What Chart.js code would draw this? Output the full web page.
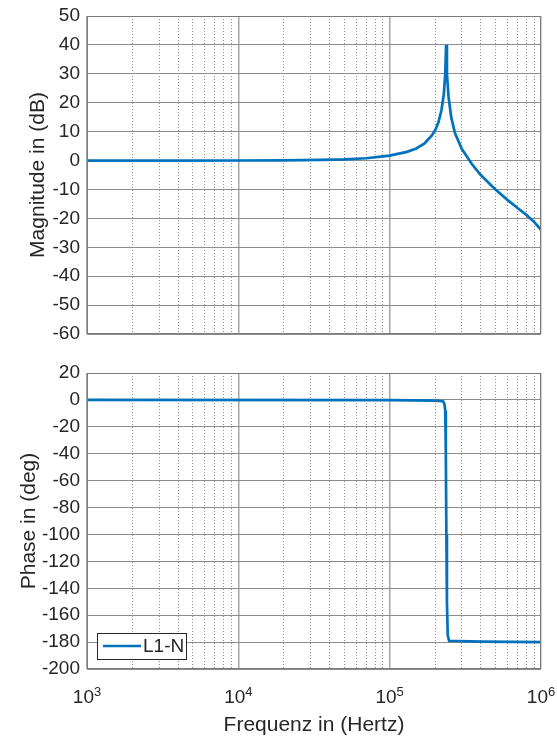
<!DOCTYPE html>
<html>
<head>
<meta charset="utf-8">
<script src="https://cdn.jsdelivr.net/npm/chart.js@4"></script>
<style>
  body { margin: 0; background: #fff; }
  #top { position: absolute; left: 0; top: 0; width: 557px; height: 350px; }
  #bottom { position: absolute; left: 0; top: 350px; width: 557px; height: 388px; }
</style>
</head>
<body>
<div id="top"><canvas id="magChart"></canvas></div>
<div id="bottom"><canvas id="phaseChart"></canvas></div>
<script>
// frequencies (Hz)
const magFreq = [1000, 5000, 10000, 20000, 35000, 50000, 70000, 100000, 130000, 150000, 170000, 190000, 200000, 210000, 220000, 228000, 233000, 236000, 239000, 245000, 255000, 270000, 300000, 350000, 400000, 500000, 600000, 700000, 800000, 900000, 1000000];
const magDb = [0, 0, 0.01, 0.06, 0.2, 0.4, 0.8, 1.7, 3.0, 4.2, 5.9, 8.7, 10.5, 13.2, 17.5, 23, 30, 40, 30, 22, 15, 9.5, 4, -1.3, -5.0, -10, -13.6, -16.4, -18.8, -21.2, -24];

const phaseFreq = [1000, 100000, 200000, 225000, 230000, 233000, 235000, 237000, 239000, 242000, 247000, 400000, 1000000];
const phaseDeg = [0, -0.2, -0.5, -1, -3, -8, -40, -100, -150, -175, -179, -179.6, -180];

const seriesLabel = 'L1-N';
const xDecades = [1000, 10000, 100000, 1000000];
const xExponents = ['3', '4', '5', '6'];
const magTicks = [50, 40, 30, 20, 10, 0, -10, -20, -30, -40, -50, -60];
const phaseTicks = [20, 0, -20, -40, -60, -80, -100, -120, -140, -160, -180, -200];

const lineColor = '#0072BD';
const textColor = '#262626';
const fontFamily = 'Liberation Sans, Arial, sans-serif';
const titleFont = { family: fontFamily, size: 21 };
const tickFont = { family: fontFamily, size: 19 };

function logTicks() {
  const t = [];
  for (let e = 3; e < 6; e++) for (let m = 1; m < 10; m++) t.push({ value: m * Math.pow(10, e) });
  t.push({ value: 1e6 });
  return t;
}
function isDecade(v) { return Math.abs(Math.log10(v) - Math.round(Math.log10(v))) < 1e-9; }

const boxPlugin = {
  id: 'box',
  afterDraw(chart) {
    const a = chart.chartArea, ctx = chart.ctx;
    ctx.save();
    ctx.strokeStyle = '#7a7a7a';
    ctx.lineWidth = 1;
    ctx.strokeRect(a.left + 0.5, a.top + 0.5, a.right - a.left - 1, a.bottom - a.top - 1);
    ctx.restore();
  }
};

// x tick labels as 10 with a raised exponent
const powerLabels = {
  id: 'powerLabels',
  afterDraw(chart) {
    if (!chart.options.plugins.powerLabels || !chart.options.plugins.powerLabels.show) return;
    const ctx = chart.ctx, a = chart.chartArea, sx = chart.scales.x;
    ctx.save();
    ctx.fillStyle = textColor;
    ctx.textBaseline = 'alphabetic';
    ctx.textAlign = 'left';
    xDecades.forEach((v, i) => {
      const x = sx.getPixelForValue(v);
      ctx.font = '19px ' + fontFamily;
      const wBase = ctx.measureText('10').width;
      ctx.font = '13px ' + fontFamily;
      const wExp = ctx.measureText(xExponents[i]).width;
      const left = x - (wBase + wExp) / 2;
      ctx.font = '19px ' + fontFamily;
      ctx.fillText('10', left, a.bottom + 34);
      ctx.font = '13px ' + fontFamily;
      ctx.fillText(xExponents[i], left + wBase, a.bottom + 27);
    });
    ctx.restore();
  }
};

const legendPlugin = {
  id: 'boxLegend',
  afterDraw(chart) {
    if (!chart.options.plugins.boxLegend || !chart.options.plugins.boxLegend.show) return;
    const ctx = chart.ctx, a = chart.chartArea;
    const x = a.left + 10, y = a.bottom - 36, w = 89, h = 26;
    ctx.save();
    ctx.fillStyle = '#fff';
    ctx.fillRect(x, y, w, h);
    ctx.strokeStyle = textColor;
    ctx.lineWidth = 1;
    ctx.strokeRect(x + 0.5, y + 0.5, w, h);
    ctx.strokeStyle = lineColor;
    ctx.lineWidth = 2.5;
    ctx.beginPath();
    ctx.moveTo(x + 6, y + h / 2);
    ctx.lineTo(x + 44, y + h / 2);
    ctx.stroke();
    ctx.fillStyle = textColor;
    ctx.font = '19px ' + fontFamily;
    ctx.textBaseline = 'middle';
    ctx.fillText(chart.data.datasets[0].label, x + 46, y + h / 2 + 1);
    ctx.restore();
  }
};

function xScale(showLabels) {
  return {
    type: 'logarithmic',
    min: 1000,
    max: 1000000,
    afterBuildTicks: s => { s.ticks = logTicks(); },
    afterFit: s => { s.height = showLabels ? 69 : 0; s.paddingLeft = 0; s.paddingRight = 0; },
    ticks: { display: false },
    grid: {
      drawTicks: false,
      color: c => isDecade(c.tick.value) ? '#a6a6a6' : '#8a8a8a',
      lineWidth: c => isDecade(c.tick.value) ? 1.5 : 1
    },
    border: {
      display: false,
      dash: c => (c.tick && isDecade(c.tick.value)) ? [] : [1, 2]
    },
    title: {
      display: showLabels,
      text: 'Frequenz in (Hertz)',
      color: textColor,
      font: titleFont,
      padding: { top: 0, bottom: 0 }
    }
  };
}

function yScale(min, max, title, tickList, titlePad) {
  return {
    min: min,
    max: max,
    afterBuildTicks: s => { s.ticks = tickList.map(v => ({ value: v })); },
    afterFit: s => { s.width = 87; s.paddingTop = 0; s.paddingBottom = 0; },
    ticks: { color: textColor, font: tickFont, padding: 7, autoSkip: false },
    grid: { drawTicks: false, color: '#8c8c8c', lineWidth: 1 },
    border: { display: false },
    title: { display: true, text: title, color: textColor, font: titleFont, padding: { top: titlePad, bottom: 0 } }
  };
}

function makeChart(id, freq, vals, yOpts, showX, pad, showLegend) {
  return new Chart(document.getElementById(id), {
    type: 'line',
    data: {
      datasets: [{
        label: seriesLabel,
        data: freq.map((f, i) => ({ x: f, y: vals[i] })),
        borderColor: lineColor,
        borderWidth: 2.7,
        pointRadius: 0,
        tension: 0,
        fill: false
      }]
    },
    options: {
      responsive: true,
      maintainAspectRatio: false,
      animation: false,
      layout: { padding: pad },
      scales: { x: xScale(showX), y: yOpts },
      plugins: {
        legend: { display: false },
        tooltip: { enabled: false },
        boxLegend: { show: showLegend },
        powerLabels: { show: showX }
      }
    },
    plugins: [boxPlugin, powerLabels, legendPlugin]
  });
}

makeChart('magChart', magFreq, magDb, yScale(-60, 50, 'Magnitude in (dB)', magTicks, 26), false,
  { left: 0, top: 16, right: 16, bottom: 16 }, false);
makeChart('phaseChart', phaseFreq, phaseDeg, yScale(-200, 20, 'Phase in (deg)', phaseTicks, 17), true,
  { left: 0, top: 23, right: 16, bottom: 0 }, true);
</script>
</body>
</html>
